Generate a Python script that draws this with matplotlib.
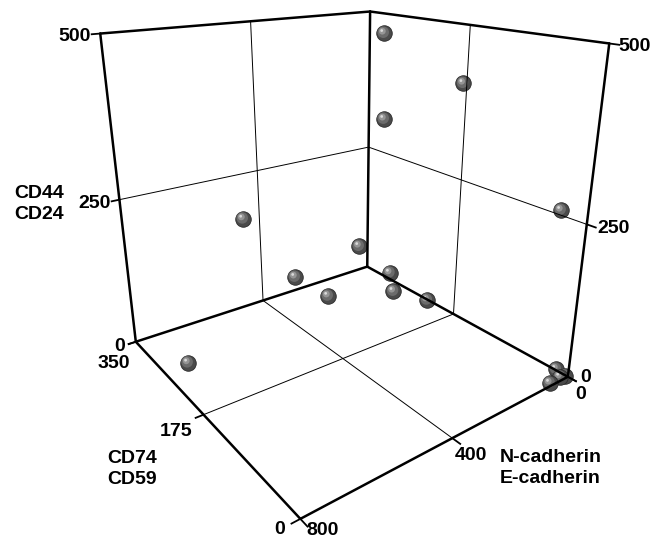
import numpy as np
import matplotlib
matplotlib.use('Agg')
import matplotlib.pyplot as plt
from matplotlib.path import Path
from matplotlib import transforms as mtransforms
from mpl_toolkits.mplot3d import proj3d

plt.rcParams['font.family'] = ['Liberation Sans', 'DejaVu Sans']

# data: N-cadherin/E-cadherin, CD74/CD59, CD44/CD24
n_cad = [30, 30, 30, 20, 478, 71, 344, 16, 263, 67, 24, 743, 0, 2, 16, 58]
cd74 = [306, 168, 303, 26, 330, 330, 309, 292, 287, 258, 213, 261, 16, 3, 5, 4]
cd44 = [470, 414, 320, 263, 181, 66, 60, 20, 20, 10, 10, 10, 2, 0, 0, 0]

x_ticks = [0, 400, 800]
y_ticks = [0, 175, 350]
z_ticks = [0, 250, 500]
x_title = 'N-cadherin\nE-cadherin'
y_title = 'CD74\nCD59'
z_title = 'CD44\nCD24'

W, H = 652, 539
fig = plt.figure(figsize=(W / 100, H / 100), dpi=100)
ax = fig.add_axes([52.57 / W, 37.49 / H, 564.84 / W, 564.84 / H], projection='3d')
ax.set_axis_off()
ax.computed_zorder = False
ax.view_init(elev=20.866, azim=-126.54, roll=0.099)
ax.set_proj_type('persp', focal_length=0.2436)
ax.set_box_aspect((1, 1.0084, 1.0248))

x0, x1 = x_ticks[0], x_ticks[-1]
y0, y1 = y_ticks[0], y_ticks[-1]
z0, z1 = z_ticks[0], z_ticks[-1]
xm, ym, zm = x_ticks[1], y_ticks[1], z_ticks[1]
ax.set_xlim(x1, x0)
ax.set_ylim(y0, y1)
ax.set_zlim(z0, z1)

edge_kw = dict(color='black', lw=1.8, solid_capstyle='round', clip_on=False)
grid_kw = dict(color='black', lw=0.7, clip_on=False)
tick_kw = dict(color='black', lw=1.3, clip_on=False)

# back walls and floor
ax.plot([x1, x1], [y0, y1], [z0, z0], **edge_kw)
ax.plot([x1, x0], [y0, y0], [z0, z0], **edge_kw)
ax.plot([x1, x0], [y1, y1], [z0, z0], **edge_kw)
ax.plot([x0, x0], [y1, y0], [z0, z0], **edge_kw)
ax.plot([x1, x1], [y1, y1], [z0, z1], **edge_kw)
ax.plot([x0, x0], [y1, y1], [z0, z1], **edge_kw)
ax.plot([x0, x0], [y0, y0], [z0, z1], **edge_kw)
ax.plot([x1, x0], [y1, y1], [z1, z1], **edge_kw)
ax.plot([x0, x0], [y1, y0], [z1, z1], **edge_kw)

ax.plot([xm, xm], [y1, y1], [z0, z1], **grid_kw)
ax.plot([x1, x0], [y1, y1], [zm, zm], **grid_kw)
ax.plot([x0, x0], [ym, ym], [z0, z1], **grid_kw)
ax.plot([x0, x0], [y1, y0], [zm, zm], **grid_kw)
ax.plot([xm, xm], [y0, y1], [z0, z0], **grid_kw)
ax.plot([x1, x0], [ym, ym], [z0, z0], **grid_kw)

tx_len = 0.025 * (x1 - x0)
ty_len = 0.03 * (y1 - y0)

font = dict(fontsize=14, fontweight='bold')
M = ax.get_proj()


def label(x, y, z, s, dx, dy, ha, va='center'):
    u, v, _ = proj3d.proj_transform(np.array([x], float), np.array([y], float),
                                    np.array([z], float), M)
    tr = mtransforms.offset_copy(ax.transData, fig=fig, x=dx, y=dy, units='dots')
    ax.text2D(u[0], v[0], s, transform=tr, ha=ha, va=va, clip_on=False, **font)


z_left_off = [(-4, -2), (-1, -2), (-1, -2)]
z_right_off = [(4, 4), (2, -1), (-1, -2)]
for z, (dxl, dyl), (dxr, dyr) in zip(z_ticks, z_left_off, z_right_off):
    ax.plot([x1, x1 + tx_len], [y1, y1], [z, z], **tick_kw)
    ax.plot([x0, x0], [y0, y0 - ty_len], [z, z], **tick_kw)
    label(x1 + tx_len, y1, z, str(z), dxl, dyl, 'right')
    label(x0, y0 - ty_len, z, str(z), dxr, dyr, 'left')

y_off = [(-6, -6), (-3, -14), (1, -19)]
for y, (dx, dy) in zip(y_ticks, y_off):
    ax.plot([x1, x1 + tx_len], [y, y], [z0, z0], **tick_kw)
    label(x1 + tx_len, y, z0, str(y), dx, dy, 'right')

x_off = [(-1, -13), (-5, -12), (-1, -4)]
for x, (dx, dy) in zip(x_ticks, x_off):
    ax.plot([x, x], [y0, y0 - ty_len], [z0, z0], **tick_kw)
    label(x, y0 - ty_len, z0, str(x), dx, dy, 'left')

fig.text(14 / W, 1 - 204 / H, z_title, ha='left', va='center', linespacing=1.32, **font)
fig.text(107 / W, 1 - 469 / H, y_title, ha='left', va='center', linespacing=1.32, **font)
fig.text(500 / W, 1 - 468 / H, x_title, ha='left', va='center', linespacing=1.32, **font)


def ball(cx, cy, r):
    c = Path.circle((cx, cy), r)
    return Path(np.vstack([[0.5, 0.0], c.vertices]), np.concatenate([[Path.MOVETO], c.codes]))


layers = [('o', '#4a4a4a', 0.6), (ball(-0.05, 0.06, 0.37), '#6b6b6b', 0),
          (ball(-0.11, 0.13, 0.22), '#959595', 0), (ball(-0.15, 0.17, 0.09), '#d9d9d9', 0)]

_, _, depth = proj3d.proj_transform(np.array(n_cad, float), np.array(cd74, float),
                                    np.array(cd44, float), M)
for i in np.argsort(depth)[::-1]:
    for mk, col, lw in layers:
        ax.scatter([n_cad[i]], [cd74[i]], [cd44[i]], s=125, marker=mk, c=col,
                   edgecolors='#2a2a2a' if lw else 'none', linewidths=lw,
                   depthshade=False, clip_on=False)

ax.set_xlim(x1, x0)
ax.set_ylim(y0, y1)
ax.set_zlim(z0, z1)
fig.savefig('out.png', dpi=100)
